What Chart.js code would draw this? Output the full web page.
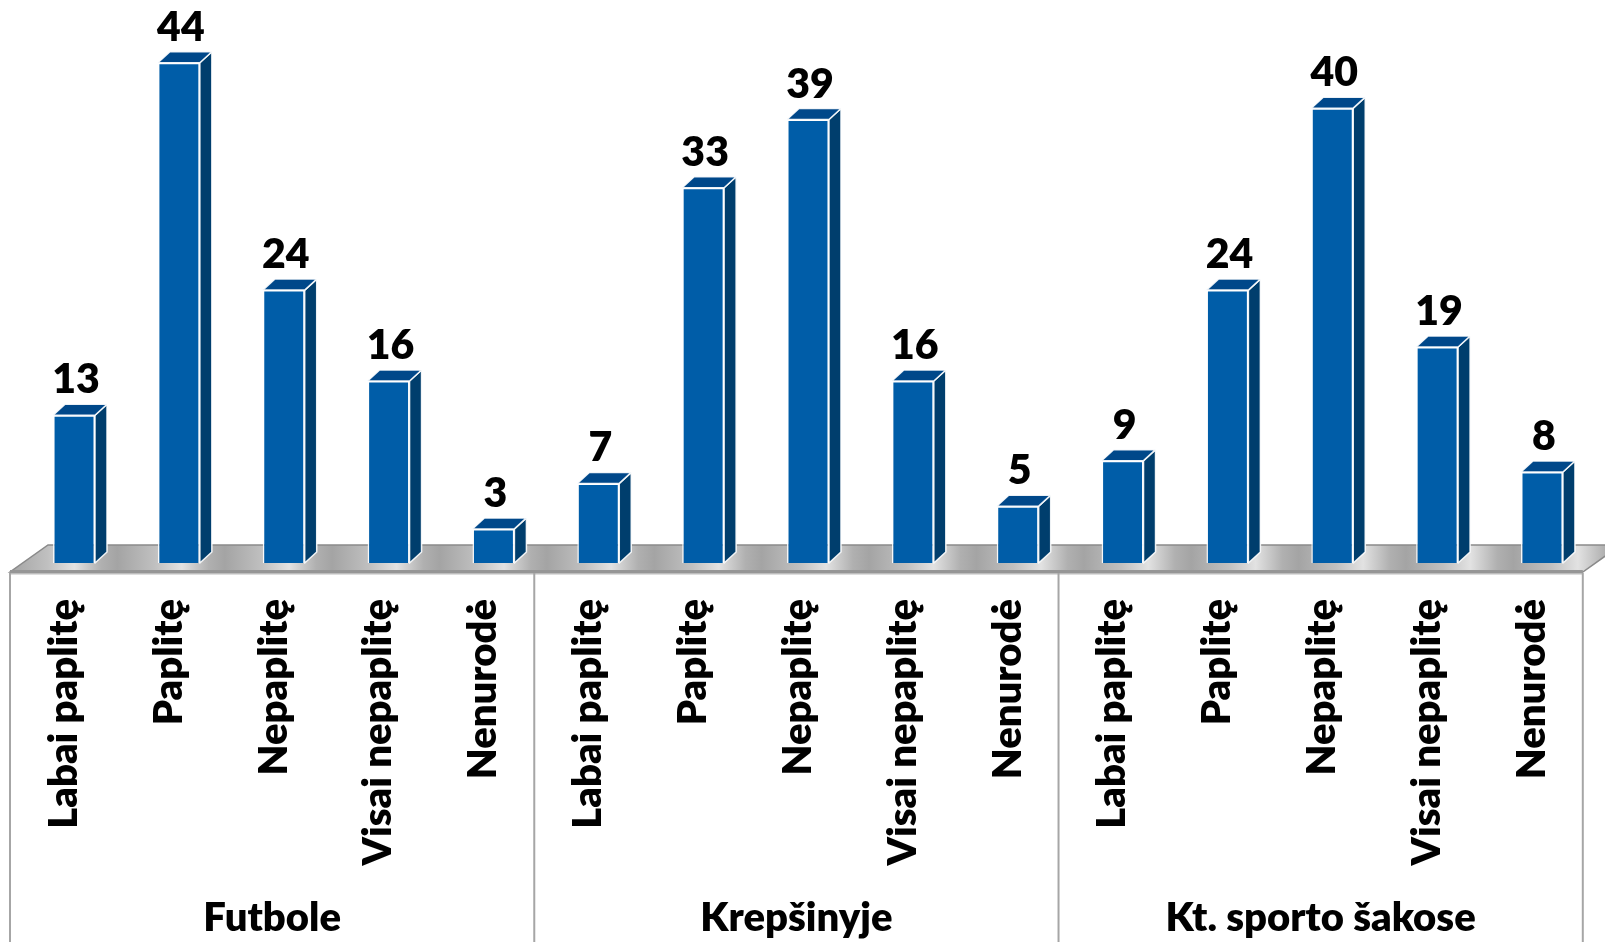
<!DOCTYPE html>
<html><head><meta charset="utf-8">
<script src="https://cdn.jsdelivr.net/npm/chart.js@4.4.0/dist/chart.umd.min.js"></script>
<style>html,body{margin:0;padding:0;background:#fff;overflow:hidden}#wrap{width:1605px;height:942px}</style>
</head><body><div id="wrap"><canvas id="c" width="1605" height="942"></canvas></div>
<script>
const groups = ['Futbole', 'Krepšinyje', 'Kt. sporto šakose'];
const answers = ['Labai paplitę', 'Paplitę', 'Nepaplitę', 'Visai nepaplitę', 'Nenurodė'];
const futbole = [13, 44, 24, 16, 3];
const krepsinyje = [7, 33, 39, 16, 5];
const kitos = [9, 24, 40, 19, 8];

const labels = groups.flatMap(() => answers);
const values = [...futbole, ...krepsinyje, ...kitos];

const FONT = 'Lato, "Open Sans", sans-serif';
const WEIGHT = '800';
const FRONT = '#005DA8', SIDE = '#003E6D', TOP = '#00488A';
const BAR_DX = 12, BAR_DY = 11;
const SHIFT_X = 11.6, SHIFT_Y = 9;
const FLOOR_DX = 38, FLOOR_DY = 27;

const plugin3d = {
  id: 'three_d',
  beforeDatasetsDraw(chart) {
    const {ctx, chartArea: a} = chart;
    const fy = a.bottom + SHIFT_Y, by = fy - FLOOR_DY;
    const fl = a.left - SHIFT_X, fr = a.right - SHIFT_X;
    ctx.save();
    const g = ctx.createLinearGradient(fl, 0, fr + FLOOR_DX, 0);
    const n = labels.length;
    for (let i = 0; i < n; i++) {
      g.addColorStop(i / n, '#a4a4a4');
      g.addColorStop((i + 0.35) / n, '#c0c0c0');
      g.addColorStop((i + 0.6) / n, '#e2e2e2');
      g.addColorStop((i + 0.85) / n, '#b0b0b0');
    }
    g.addColorStop(1, '#a4a4a4');
    ctx.beginPath();
    ctx.moveTo(fl, fy); ctx.lineTo(fr, fy); ctx.lineTo(fr + FLOOR_DX, by); ctx.lineTo(fl + FLOOR_DX, by); ctx.closePath();
    ctx.fillStyle = g; ctx.fill();
    ctx.lineWidth = 1.5; ctx.strokeStyle = '#8a8a8a'; ctx.stroke();
    ctx.fillStyle = '#969696';
    ctx.fillRect(fl, fy - 2, fr - fl, 3);
    ctx.fillStyle = '#bdbdbd';
    ctx.fillRect(fl, fy + 1, fr - fl, 1.5);
    ctx.restore();
  },
  afterDatasetsDraw(chart) {
    const {ctx} = chart;
    const meta = chart.getDatasetMeta(0);
    const data = chart.data.datasets[0].data;
    ctx.save();
    meta.data.forEach((bar, i) => {
      const {x, y, base, width} = bar.getProps(['x', 'y', 'base', 'width'], true);
      const l = x - width / 2, r = x + width / 2;
      ctx.lineWidth = 1.5; ctx.strokeStyle = 'rgba(255,255,255,0.9)'; ctx.lineJoin = 'round';
      ctx.beginPath();
      ctx.moveTo(r, y); ctx.lineTo(r + BAR_DX, y - BAR_DY); ctx.lineTo(r + BAR_DX, base - BAR_DY); ctx.lineTo(r, base); ctx.closePath();
      ctx.fillStyle = SIDE; ctx.fill(); ctx.stroke();
      ctx.beginPath();
      ctx.moveTo(l, y); ctx.lineTo(l + BAR_DX, y - BAR_DY); ctx.lineTo(r + BAR_DX, y - BAR_DY); ctx.lineTo(r, y); ctx.closePath();
      ctx.fillStyle = TOP; ctx.fill(); ctx.stroke();
      ctx.fillStyle = '#000';
      ctx.font = WEIGHT + ' 41px ' + FONT;
      ctx.textAlign = 'center'; ctx.textBaseline = 'alphabetic';
      ctx.fillText(String(data[i]), x + 2, y - 22);
    });
    ctx.restore();
  },
  afterDraw(chart) {
    const {ctx, chartArea: a} = chart;
    const fy = a.bottom + SHIFT_Y;
    const n = labels.length, per = answers.length;
    const catW = (a.right - a.left) / n;
    ctx.save();
    ctx.strokeStyle = '#a6a6a6'; ctx.lineWidth = 2;
    for (let gI = 0; gI <= groups.length; gI++) {
      const xx = a.left - SHIFT_X + gI * per * catW;
      ctx.beginPath(); ctx.moveTo(xx, fy + 1); ctx.lineTo(xx, chart.height); ctx.stroke();
    }
    ctx.fillStyle = '#000';
    ctx.font = WEIGHT + ' 40px ' + FONT;
    ctx.textAlign = 'center'; ctx.textBaseline = 'alphabetic';
    groups.forEach((gname, gI) => {
      const cx = a.left - SHIFT_X + (gI + 0.5) * per * catW;
      ctx.fillText(gname, cx, a.bottom + 368);
    });
    ctx.restore();
  }
};

new Chart(document.getElementById('c').getContext('2d'), {
  type: 'bar',
  data: {
    labels: labels,
    datasets: [{
      data: values,
      backgroundColor: FRONT,
      borderColor: 'rgba(255,255,255,0.9)',
      borderWidth: 1.5,
      barPercentage: 0.4,
      categoryPercentage: 1
    }]
  },
  options: {
    responsive: false,
    animation: false,
    devicePixelRatio: 1,
    layout: {padding: {left: 21.6, right: 10.6, top: 17.2, bottom: 0}},
    plugins: {legend: {display: false}, tooltip: {enabled: false}},
    scales: {
      x: {
        grid: {display: false, drawTicks: false},
        border: {display: false},
        ticks: {
          autoSkip: false, maxRotation: 90, minRotation: 90,
          padding: 36, labelOffset: -10, color: '#000',
          font: {family: FONT, weight: WEIGHT, size: 40}
        },
        afterFit(s) { s.height = 379; s.paddingLeft = 0; s.paddingRight = 0; }
      },
      y: {display: false, min: 0, max: 48}
    }
  },
  plugins: [plugin3d]
});
</script></body></html>
